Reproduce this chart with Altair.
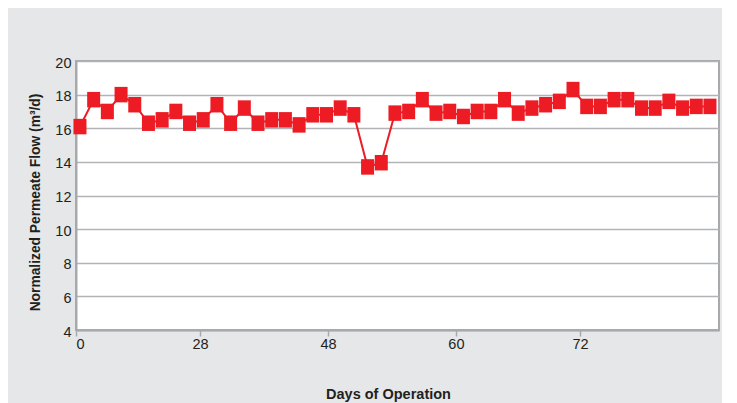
import altair as alt
import pandas as pd

flow = [16.1, 17.7, 17.0, 18.0, 17.4, 16.3, 16.5, 17.0, 16.3, 16.5,
        17.4, 16.3, 17.2, 16.3, 16.5, 16.5, 16.2, 16.8, 16.8, 17.2,
        16.8, 13.7, 13.95, 16.9, 17.0, 17.7, 16.9, 17.0, 16.7, 17.0,
        17.0, 17.7, 16.9, 17.2, 17.4, 17.6, 18.3, 17.3, 17.3, 17.7,
        17.7, 17.2, 17.2, 17.6, 17.2, 17.3, 17.3]
sample = list(range(len(flow)))

day_labels = ["0", "28", "48", "60", "72"]
day_ticks = [-0.29, 8.76, 18.11, 27.45, 36.51]
y_ticks = [4, 6, 8, 10, 12, 14, 16, 18, 20]

df = pd.DataFrame({"sample": sample, "flow": flow})

# label expression mapping tick positions to day labels
expr = "''"
for pos, lab in reversed(list(zip(day_ticks, day_labels))):
    expr = f"abs(datum.value - ({pos})) < 0.5 ? '{lab}' : ({expr})"

FONT = "Liberation Sans"
RED = "#ed1c24"
GRAY = "#a7a9ac"
TXT = "#231f20"

x_enc = alt.X(
    "sample:Q",
    scale=alt.Scale(domain=[-0.29, 46.66], nice=False, zero=False),
    axis=alt.Axis(
        values=day_ticks,
        labelExpr=expr,
        labelOverlap=False,
        title="Days of Operation",
        grid=False,
        ticks=True,
        tickSize=6,
        tickColor=GRAY,
        tickWidth=1.5,
        domainColor=GRAY,
        domainWidth=2,
        labelFontSize=14.5,
        labelColor=TXT,
        labelPadding=1,
        labelFont=FONT,
        titleFont=FONT,
        titleFontSize=14.5,
        titleFontWeight="bold",
        titleColor=TXT,
        titleX=312,
        titleY=64,
        titleBaseline="middle",
        titleAlign="center",
        titleAnchor="start",
    ),
)

y_enc = alt.Y(
    "flow:Q",
    scale=alt.Scale(domain=[4, 20], nice=False, zero=False),
    axis=alt.Axis(
        values=y_ticks,
        labelOverlap=False,
        title="Normalized Permeate Flow (m³/d)",
        grid=True,
        gridColor="#b1b3b6",
        gridWidth=1.5,
        ticks=False,
        domainColor=GRAY,
        domainWidth=2,
        labelFontSize=14.5,
        labelColor=TXT,
        labelPadding=5,
        labelOffset=2,
        labelFont=FONT,
        titleFont=FONT,
        titleFontSize=13.8,
        titleFontWeight="bold",
        titleColor=TXT,
        titleX=-41,
        titleY=141,
        titleBaseline="middle",
        titleAlign="center",
        titleAngle=-90,
    ),
)

base = alt.Chart(df).encode(x=x_enc, y=y_enc)
line = base.mark_line(color=RED, strokeWidth=2)
pts = base.mark_point(
    shape="M-0.84,-1L0.84,-1L0.84,1L-0.84,1Z",
    size=240,
    filled=True,
    fill=RED,
    opacity=1,
    strokeWidth=0,
)

chart = (
    alt.layer(line, pts)
    .properties(
        width=643,
        height=269,
        background="#e6e7e9",
        autosize=alt.AutoSizeParams(type="none"),
        padding={"left": 68, "top": 53, "right": 3, "bottom": 80},
    )
    .configure_view(fill="white", stroke=GRAY, strokeWidth=2)
)

chart.save("out.html", embed_options={"renderer": "svg", "actions": False})
